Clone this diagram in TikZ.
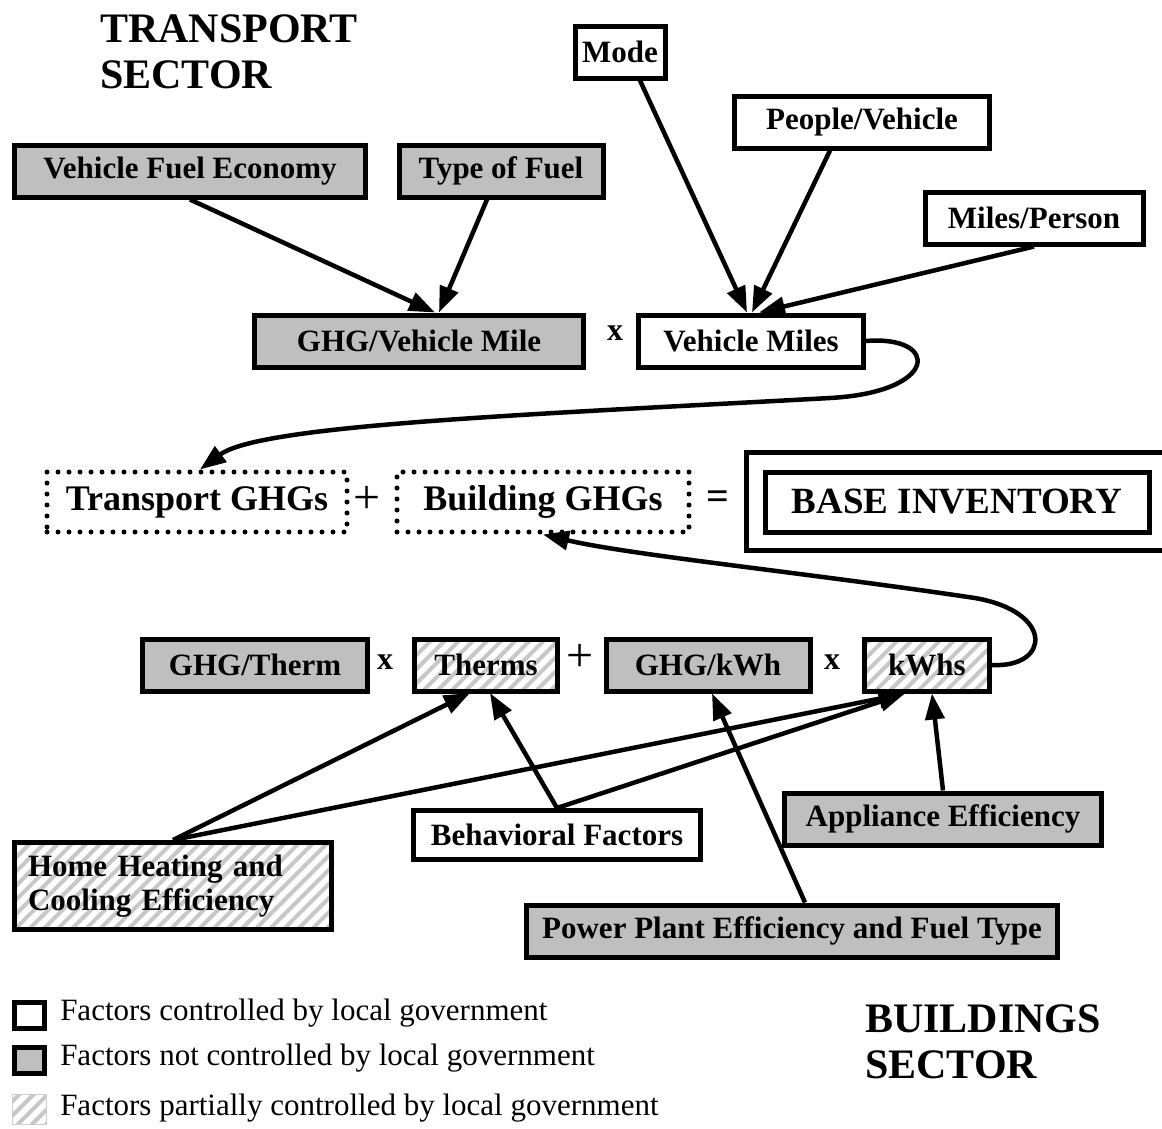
\documentclass[tikz,border=0pt]{standalone}
\usepackage{fontspec}
\setmainfont{Liberation Serif}
\usetikzlibrary{arrows.meta,patterns.meta}

\begin{document}
\begin{tikzpicture}[   % opciones por defecto
      x=1pt, y=-1pt,     % coordenadas en pixeles, y hacia abajo
      line width=4.5pt,
      font=\fontsize{31}{34}\selectfont\bfseries
    ]
    \tikzstyle{borde}=[draw, line width=5pt, minimum height=52, inner sep=4pt];
    \tikzstyle{caja}=[borde, fill=white];
    \tikzstyle{gris}=[borde, fill=black!25];
    \tikzstyle{rayado}=[borde, pattern={Lines[angle=45,distance=10pt,line width=4pt]}, pattern color=black!22];
    \tikzstyle{punteado}=[draw, line width=5pt, dash pattern=on 0pt off 11pt, line cap=round,
      minimum height=60, font=\fontsize{36}{40}\selectfont\bfseries];
    \tikzstyle{flecha}=[-{Triangle[length=26pt,width=19pt]}, line width=4.5pt];
    \tikzstyle{signo}=[font=\fontsize{48}{50}\selectfont];
    \tikzstyle{por}=[font=\fontsize{32}{34}\selectfont\bfseries];
    \tikzstyle{titulo}=[anchor=north west, align=left, inner sep=0pt, font=\fontsize{42}{46}\selectfont\bfseries];
    \tikzstyle{leyenda}=[anchor=west, inner sep=0pt, font=\fontsize{31}{34}\selectfont];
    %
    \useasboundingbox (0,0) rectangle (1162,1128);
    %
    % titulos
    \node [titulo] (tsec) at (98,12) {TRANSPORT\\SECTOR};
    \node [titulo] (bsec) at (863,1002) {BUILDINGS\\SECTOR};
    %
    % sector transporte
    \node [caja, minimum width=90]  (mode) at (620,52)  {Mode};
    \node [caja, minimum width=255] (ppv)  at (862,122) {People/Vehicle};
    \node [caja, minimum width=218] (mpp)  at (1034,218) {Miles/Person};
    \node [gris, minimum width=351] (vfe)  at (190,171) {Vehicle Fuel Economy};
    \node [gris, minimum width=204] (tof)  at (501,171) {Type of Fuel};
    \node [gris, minimum width=329] (gvm)  at (419,341) {GHG/Vehicle Mile};
    \node [por] (x1) at (615,333) {x};
    \node [caja, minimum width=225] (vm)   at (751,341) {Vehicle Miles};
    %
    % fila de totales
    \node [punteado, minimum width=300] (tg) at (197,502) {Transport GHGs};
    \node [signo] (plus1) at (367,500) {+};
    \node [punteado, minimum width=292] (bg) at (543,502) {Building GHGs};
    \node [signo, font=\fontsize{40}{42}\selectfont\bfseries] (eq) at (718,500) {=};
    \node [caja, minimum width=384, minimum height=60, font=\fontsize{37}{40}\selectfont\bfseries]
      (base) at (957,502) {BASE INVENTORY};
    \draw [line width=5pt] ([shift={(-16,-17)}]base.north west) rectangle ([shift={(25,16)}]base.south east);
    %
    % sector edificios
    \node [gris, minimum width=225]   (gth)  at (255,665) {GHG/Therm};
    \node [por] (x2) at (385,662) {x};
    \node [rayado, minimum width=143] (th)   at (486,665) {Therms};
    \node [signo] (plus2) at (580,658) {+};
    \node [gris, minimum width=204]   (gkwh) at (708,665) {GHG/kWh};
    \node [por] (x3) at (832,662) {x};
    \node [rayado, minimum width=125] (kwh)  at (927,665) {kWhs};
    %
    \node [rayado, minimum width=317, minimum height=87, text width=290, align=left] (hh) at (173,886)
      {Home Heating and\\Cooling Efficiency};
    \node [caja, minimum width=287, minimum height=49] (bf) at (557,835) {Behavioral Factors};
    \node [gris, minimum width=317] (ae) at (943,819) {Appliance Efficiency};
    \node [gris, minimum width=531] (pp) at (792,931) {Power Plant Efficiency and Fuel Type};
    %
    % conexiones transporte
    \draw [flecha] (vfe.south) -- ([xshift=16]gvm.north);
    \draw [flecha] ([xshift=-14]tof.south) -- ([xshift=20]gvm.north);
    \draw [flecha] ([xshift=20]mode.south) -- ([xshift=-4]vm.north);
    \draw [flecha] ([xshift=-32]ppv.south) -- ([xshift=1]vm.north);
    \draw [flecha] (mpp.south) -- ([xshift=8]vm.north);
    %
    % curvas hacia los totales
    \draw [flecha] (vm.east) .. controls (940,335) and (940,392) .. (830,398)
      .. controls (520,415) and (260,425) .. ([xshift=3]tg.north);
    \draw [flecha] (kwh.east) .. controls (1050,668) and (1055,612) .. (975,598)
      .. controls (800,572) and (630,555) .. (bg.south);
    %
    % conexiones edificios
    \foreach \f in {hh,bf} {
      \draw [flecha] (\f.north) -- ([xshift=-22]kwh.south);
    }
    \draw [flecha] (hh.north) -- ([xshift=-16]th.south);
    \draw [flecha] (bf.north) -- ([xshift=4]th.south);
    \draw [flecha] ([xshift=13]pp.north) -- ([xshift=4]gkwh.south);
    \draw [flecha] (ae.north) -- ([xshift=5]kwh.south);
    %
    % leyenda
    \node [caja, minimum width=30, minimum height=26, inner sep=0pt] (lb) at (29,1015) {};
    \node [gris, minimum width=30, minimum height=26, inner sep=0pt] (lg) at (29,1060) {};
    \node [draw=black!20, line width=1pt, minimum width=34, minimum height=30, inner sep=0pt,
      pattern={Lines[angle=45,distance=10pt,line width=4pt]}, pattern color=black!22] (lr) at (29,1109) {};
    \node [leyenda] (tb) at (58,1013) {Factors controlled by local government};
    \node [leyenda] (tgr) at (58,1058) {Factors not controlled by local government};
    \node [leyenda] (tr) at (58,1108) {Factors partially controlled by local government};
\end{tikzpicture}
\end{document}
